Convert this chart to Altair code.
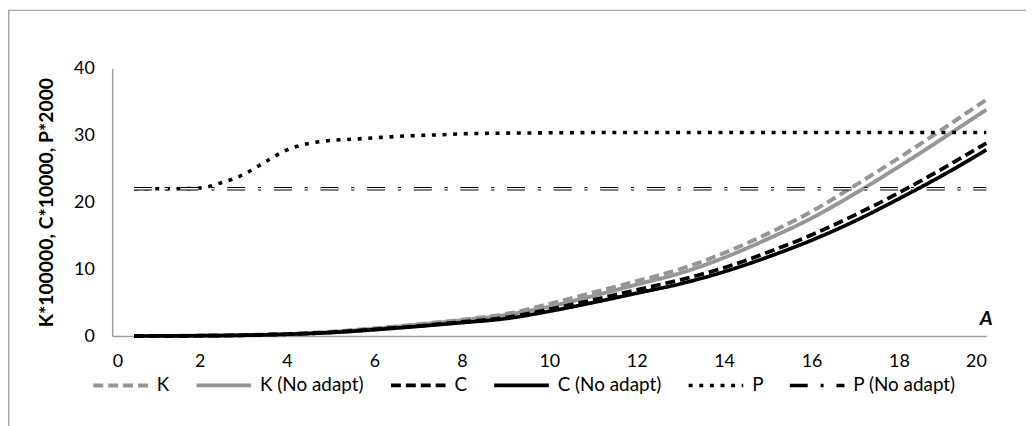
import altair as alt
import pandas as pd

# ---- data ----
series_names = ["K", "K (No adapt)", "C", "C (No adapt)", "P", "P (No adapt)"]

kc_x = [0.5, 1, 2, 3, 4, 5, 6, 7, 8, 9, 10, 11, 12, 13, 14, 15, 16, 17, 18, 19, 20]
k_vals = [0, 0.02, 0.05, 0.15, 0.3, 0.65, 1.15, 1.75, 2.45, 3.3, 4.8, 6.5, 8.2, 10.0, 12.4, 15.3, 18.6, 22.5, 26.6, 30.9, 35.3]
k_noadapt_vals = [0, 0.02, 0.05, 0.15, 0.3, 0.6, 1.1, 1.7, 2.35, 3.15, 4.4, 6.0, 7.7, 9.4, 11.7, 14.5, 17.6, 21.3, 25.3, 29.5, 33.8]
c_vals = [0, 0.02, 0.05, 0.12, 0.28, 0.55, 1.0, 1.5, 2.1, 2.75, 4.0, 5.4, 6.9, 8.4, 10.2, 12.5, 15.1, 18.1, 21.4, 25.0, 28.8]
c_noadapt_vals = [0, 0.02, 0.05, 0.12, 0.27, 0.52, 0.95, 1.45, 2.0, 2.6, 3.7, 5.0, 6.4, 7.8, 9.6, 11.8, 14.3, 17.2, 20.5, 24.0, 27.8]

p_x = [0.5, 1, 1.5, 2, 2.5, 3, 3.5, 4, 4.5, 5, 5.5, 6, 6.5, 7, 7.5, 8, 9, 10, 12, 14, 16, 18, 20]
p_vals = [22.0, 22.0, 22.0, 22.1, 22.9, 24.1, 26.0, 27.8, 28.75, 29.2, 29.4, 29.6, 29.8, 29.95, 30.05,
          30.2, 30.3, 30.35, 30.4, 30.4, 30.4, 30.4, 30.4]

p_noadapt_x = [0.5, 20]
p_noadapt_vals = [22.0, 22.0]

x_ticks = [0, 2, 4, 6, 8, 10, 12, 14, 16, 18, 20]
y_ticks = [0, 10, 20, 30, 40]

annot_x = [20]
annot_y = [2.5]
annot_text = ["A"]

# ---- styles ----
colors = ["#969696", "#969696", "#000000", "#000000", "#000000", "#000000"]
dashes = [[10, 5], [1, 0], [10, 5], [1, 0], [4, 6.7], [18, 13, 3, 13]]
widths = [4, 3.5, 4, 4, 4, 4.5]
FONT = "Lato"

rows = []
for name, xs, ys in [
    ("K", kc_x, k_vals),
    ("K (No adapt)", kc_x, k_noadapt_vals),
    ("C", kc_x, c_vals),
    ("C (No adapt)", kc_x, c_noadapt_vals),
    ("P", p_x, p_vals),
    ("P (No adapt)", p_noadapt_x, p_noadapt_vals),
]:
    for xv, yv in zip(xs, ys):
        rows.append({"series": name, "x": xv, "y": yv})
df = pd.DataFrame(rows)
df_pno = df[df["series"] == "P (No adapt)"]

x_enc = alt.X(
    "x:Q",
    scale=alt.Scale(domain=[0, 20], nice=False, zero=False),
    axis=alt.Axis(values=x_ticks, title=None, labelPadding=17, format="d"),
)
y_enc = alt.Y(
    "y:Q",
    scale=alt.Scale(domain=[0, 40], nice=False),
    axis=alt.Axis(
        values=y_ticks,
        title="K*100000, C*10000, P*2000",
        titleFont=FONT,
        titleFontWeight="bold",
        titleFontSize=19.5,
        titleColor="black",
        titlePadding=17,
        labelPadding=18,
    ),
)

lines = alt.Chart(df).mark_line(interpolate="monotone", strokeCap="butt").encode(
    x=x_enc,
    y=y_enc,
    color=alt.Color(
        "series:N",
        scale=alt.Scale(domain=series_names, range=colors),
        title=None,
        legend=alt.Legend(
            orient="none",
            legendX=-21,
            legendY=290,
            direction="horizontal",
            columns=6,
            symbolType="stroke",
            symbolSize=3025,
            labelFont=FONT,
            labelFontSize=19,
            labelColor="black",
            labelOffset=7,
            columnPadding=19,
        ),
    ),
    strokeDash=alt.StrokeDash("series:N", scale=alt.Scale(domain=series_names, range=dashes), title=None),
    strokeWidth=alt.StrokeWidth("series:N", scale=alt.Scale(domain=series_names, range=widths), title=None),
)

inner = alt.Chart(df_pno).mark_line(
    interpolate="monotone", color="white", strokeWidth=1.5, strokeDash=[18, 13, 3, 13], strokeCap="butt"
).encode(x="x:Q", y="y:Q")

annot = alt.Chart(pd.DataFrame({"x": annot_x, "y": annot_y, "t": annot_text})).mark_text(
    font=FONT, fontSize=20, fontWeight="bold", fontStyle="italic", color="black"
).encode(x="x:Q", y="y:Q", text="t:N")

border = alt.Chart(pd.DataFrame({"b": [0]})).mark_rect(
    filled=False, stroke="#a6a6a6", strokeWidth=1.5
).encode(
    x=alt.value(-104.25), x2=alt.value(1000), y=alt.value(-58.25), y2=alt.value(500)
)

chart = (
    alt.layer(border, lines, inner, annot)
    .properties(
        width=881,
        height=270,
        autosize=alt.AutoSizeParams(type="none"),
        padding={"left": 105, "top": 59, "right": 40, "bottom": 89},
    )
    .configure_view(stroke=None)
    .configure_axis(
        grid=False,
        ticks=False,
        domainColor="#a0a0a0",
        domainWidth=1.5,
        labelFont=FONT,
        labelFontSize=18,
        labelColor="black",
    )
)

chart.save("out.html", embed_options={"renderer": "svg", "actions": False})
